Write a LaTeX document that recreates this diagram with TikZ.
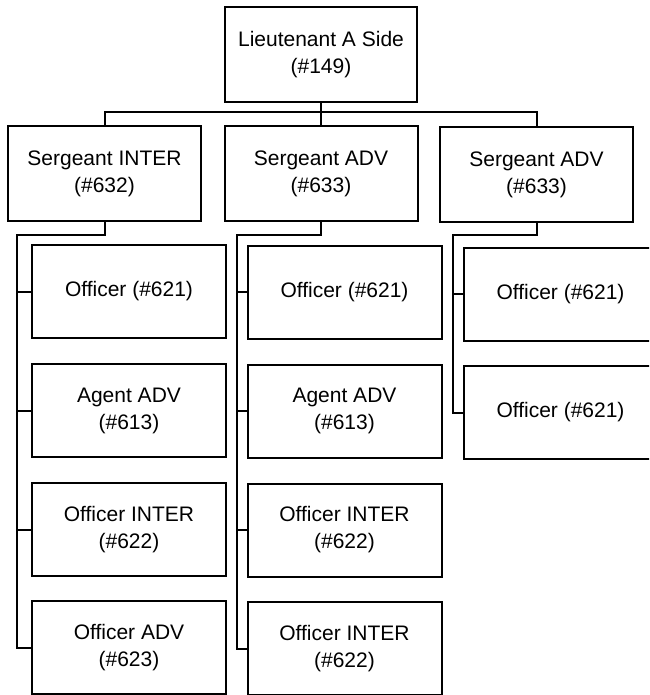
\documentclass[tikz,border=0pt]{standalone}
\usepackage{fontspec}
\setmainfont{Liberation Sans}
\begin{document}
\begin{tikzpicture}[x=1pt,y=-1pt,
  box/.style={draw=black, line width=2pt, rectangle, inner sep=0pt, align=center,
    font=\fontsize{21}{27}\selectfont, minimum height=94pt},
  sbox/.style={box, minimum width=193pt, minimum height=95pt},
  cbox/.style={box, minimum width=194pt, minimum height=93pt},
  link/.style={draw=black, line width=2pt}]
\useasboundingbox (0,0) rectangle (649,695);
\clip (0,0) rectangle (649,695);
\fill[white] (0,0) rectangle (649,695);
% top
\node[sbox, minimum width=192pt] (top) at (321,54.5) {Lieutenant A Side\\(\#149)};
% sergeants
\node[sbox] (s1) at (104.5,173.5) {Sergeant INTER\\(\#632)};
\node[sbox] (s2) at (321,173.5) {Sergeant ADV\\(\#633)};
\node[sbox] (s3) at (536.5,174.5) {Sergeant ADV\\(\#633)};
% column 1
\node[cbox] (c11) at (129,291.5) {Officer (\#621)};
\node[cbox] (c12) at (129,410.5) {Agent ADV\\(\#613)};
\node[cbox] (c13) at (129,529.5) {Officer INTER\\(\#622)};
\node[cbox] (c14) at (129,647.5) {Officer ADV\\(\#623)};
% column 2
\node[cbox] (c21) at (344.5,292) {Officer (\#621)};
\node[cbox] (c22) at (344.5,411) {Agent ADV\\(\#613)};
\node[cbox] (c23) at (344.5,530) {Officer INTER\\(\#622)};
\node[cbox] (c24) at (344.5,648.5) {Officer INTER\\(\#622)};
% column 3
\node[cbox] (c31) at (560.5,294) {Officer (\#621)};
\node[cbox] (c32) at (560.5,412.5) {Officer (\#621)};
% connectors
\coordinate (bus) at (321,112.5);
\draw[link] (top.south) -- (bus);
\draw[link] (s1.north) |- (bus) -| (s3.north);
\draw[link] (bus) -- (s2.north);
\coordinate (t1) at (17,235);
\coordinate (t2) at (237,235);
\coordinate (t3) at (453,235);
\draw[link] (s1.south) |- (t1) |- (c14.west);
\draw[link] (s2.south) |- (t2) |- (c24.west);
\draw[link] (s3.south) |- (t3) |- (c32.west);
\foreach \c in {c11,c12,c13}{\draw[link] (\c.west) -- (\c.west -| t1);}
\foreach \c in {c21,c22,c23}{\draw[link] (\c.west) -- (\c.west -| t2);}
\draw[link] (c31.west) -- (c31.west -| t3);
\end{tikzpicture}
\end{document}
